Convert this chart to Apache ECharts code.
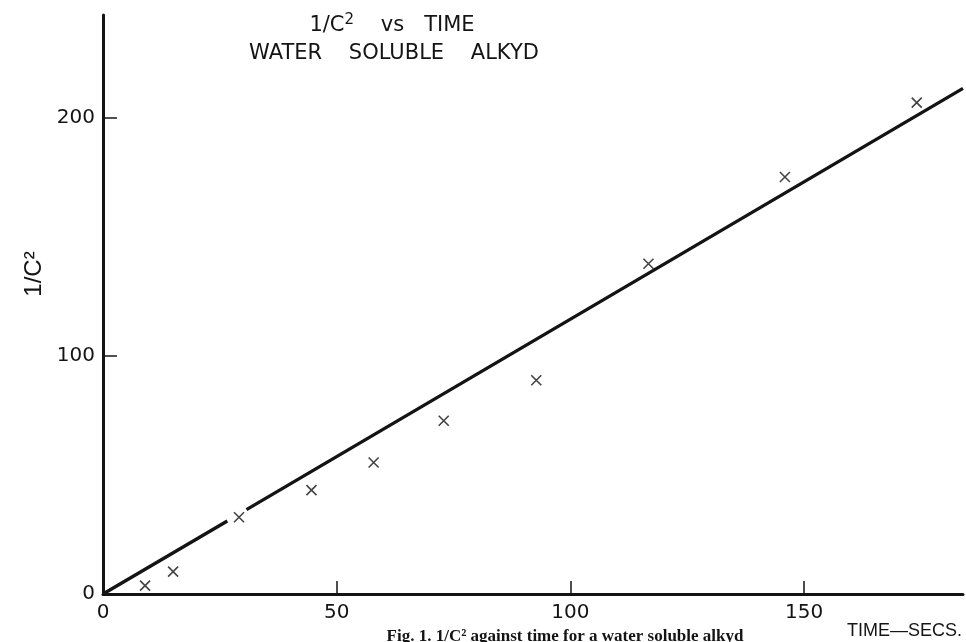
<!DOCTYPE html>
<html>
<head>
<meta charset="utf-8">
<script src="https://cdn.jsdelivr.net/npm/echarts@6/dist/echarts.min.js"></script>
<style>
html,body{margin:0;padding:0;background:#fff;}
#chart{width:966px;height:642px;}
</style>
</head>
<body>
<div id="chart"></div>
<script>
// Measured points (time in seconds, 1/C^2)
var timeSecs = [9.0, 15.0, 29.1, 44.6, 57.9, 72.9, 92.7, 116.7, 145.9, 174.1];
var invC2 = [3.5, 9.4, 32.2, 43.6, 55.2, 72.7, 89.7, 138.6, 175.0, 206.2];
// Fitted straight line (broken where it passes the 29 s point)
var fitTime = [0, 26.6, null, 30.7, 184];
var fitInvC2 = [0, 30.6, null, 35.4, 212.2];
// Tick labels
var xTicks = [0, 50, 100, 150];
var yTicks = [0, 100, 200];
var yTickMarks = [100, 200];

var titleLine1 = '1/C{sup|2}    vs   TIME';
var titleLine2 = 'WATER    SOLUBLE    ALKYD';
var yName = '1/C²';
var xName = 'TIME—SECS.';
var caption = 'Fig. 1. 1/C² against time for a water soluble alkyd';

var pts = timeSecs.map(function (t, i) { return [t, invC2[i]]; });
var fit = fitTime.map(function (t, i) { return t === null ? ['-', '-'] : [t, fitInvC2[i]]; });

var ink = '#141414';
var tickFont = 'DejaVu Sans';

var chart = echarts.init(document.getElementById('chart'), null, {renderer: 'canvas'});
chart.setOption({
  backgroundColor: '#ffffff',
  animation: false,
  grid: {left: 103, right: 3, top: 15, bottom: 48},
  xAxis: {
    type: 'value', min: 0, max: 184, interval: 50,
    axisLine: {show: true, lineStyle: {color: ink, width: 3}},
    axisTick: {show: true, inside: true, length: 13, customValues: xTicks.slice(1), lineStyle: {color: ink, width: 1.5}},
    axisLabel: {customValues: xTicks, margin: 9, color: ink, fontSize: 20, fontFamily: tickFont},
    splitLine: {show: false}
  },
  yAxis: {
    type: 'value', min: 0, max: 243, interval: 100,
    axisLine: {show: true, lineStyle: {color: ink, width: 3}},
    axisTick: {show: true, inside: true, length: 14, customValues: yTickMarks, lineStyle: {color: ink, width: 1.5}},
    axisLabel: {customValues: yTicks, margin: 8, color: ink, fontSize: 20, fontFamily: tickFont},
    splitLine: {show: false}
  },
  graphic: [
    {type: 'text', x: 392, y: 26, style: {text: titleLine1, align: 'center', verticalAlign: 'middle',
      font: '21px "DejaVu Sans"', fill: ink,
      rich: {sup: {fontSize: 15, fontFamily: tickFont, verticalAlign: 'top', padding: [0, 0, 12, 0]}}}},
    {type: 'text', x: 394, y: 54, style: {text: titleLine2, align: 'center', verticalAlign: 'middle',
      font: '21px "DejaVu Sans"', fill: ink}},
    {type: 'text', x: 34, y: 274, rotation: Math.PI / 2, style: {text: yName, align: 'center', verticalAlign: 'middle',
      font: '24px "Liberation Sans"', fill: ink}},
    {type: 'text', x: 962, y: 631, style: {text: xName, align: 'right', verticalAlign: 'middle',
      font: '18px "Liberation Sans"', fill: ink}},
    {type: 'text', x: 565, y: 628, style: {text: caption, align: 'center', verticalAlign: 'top',
      font: 'bold 17px "Liberation Serif"', fill: ink}}
  ],
  series: [
    {
      type: 'line', data: fit, showSymbol: false, connectNulls: false,
      lineStyle: {color: ink, width: 3.4}, silent: true, z: 2
    },
    {
      type: 'scatter', data: pts,
      symbol: 'path://M0,0L10,10M0,10L10,0', symbolSize: 10,
      itemStyle: {color: 'transparent', borderColor: ink, borderWidth: 1.6}, z: 3
    }
  ]
});
</script>
</body>
</html>
